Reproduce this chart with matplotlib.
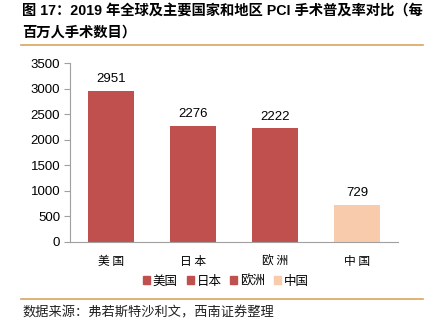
import numpy as np
import matplotlib
matplotlib.use("Agg")
import matplotlib.pyplot as plt
from matplotlib.patches import Patch
from matplotlib.lines import Line2D

plt.rcParams['font.family'] = ['Liberation Sans', 'Noto Sans CJK SC', 'DejaVu Sans']

regions = ['美国', '日本', '欧洲', '中国']
values = [2951, 2276, 2222, 729]
colors = ['#C0504D', '#C0504D', '#C0504D', '#F8CBAD']
yticks = [0, 500, 1000, 1500, 2000, 2500, 3000, 3500]

title1 = '图 17：2019 年全球及主要国家和地区 PCI 手术普及率对比（每'
title2 = '百万人手术数目）'
source = '数据来源：弗若斯特沙利文，西南证券整理'

W, H = 433, 335
fig = plt.figure(figsize=(W / 100, H / 100), dpi=100)

def fx(px):
    return px / W

def fy(py):
    return 1 - py / H

# axes: x 70..398, y 63..242
ax = fig.add_axes([fx(70), fy(242), fx(398) - fx(70), fy(63) - fy(242)])
x = np.arange(len(regions))
bars = ax.bar(x, values, width=0.57, color=colors)
for xi, v in zip(x, values):
    ax.text(xi, v + 110, str(v), ha='center', va='bottom', fontsize=9.5, color='#000000')

ax.set_xlim(-0.5, len(regions) - 0.5)
ax.set_ylim(0, 3500)
ax.set_yticks(yticks)
ax.tick_params(axis='y', labelsize=9.5, length=4, color='#A0A0A0', pad=3)
ax.tick_params(axis='x', length=0, pad=9)
ax.set_xticks(x)
ax.set_xticklabels([' '.join(r) for r in regions], fontsize=8.5, family=['Noto Sans CJK SC'])
for s in ['top', 'right']:
    ax.spines[s].set_visible(False)
ax.spines['left'].set_color('#A0A0A0')
ax.spines['bottom'].set_color('#A0A0A0')

handles = [Patch(color=c, label=r) for r, c in zip(regions, colors)]
leg = fig.legend(handles=handles, loc='center', bbox_to_anchor=(fx(226), fy(281)),
                 ncol=4, frameon=False, handlelength=0.55, handleheight=0.55,
                 handletextpad=0.25, columnspacing=0.7,
                 prop={'family': ['Noto Sans CJK SC'], 'size': 9})

fig.text(fx(22), fy(11), title1, fontsize=10.3, fontweight='bold', va='center', ha='left')
fig.text(fx(22), fy(33), title2, fontsize=10.3, fontweight='bold', va='center', ha='left')
fig.text(fx(22), fy(313), source, fontsize=9.5, va='center', ha='left', color='#222222',
         family=['Noto Sans CJK SC'])

line_color = '#D9A55F'
fig.add_artist(Line2D([fx(21), fx(423)], [fy(45), fy(45)], color=line_color, lw=1.2))
fig.add_artist(Line2D([fx(21), fx(423)], [fy(299), fy(299)], color=line_color, lw=1.2))

fig.savefig('out.png', dpi=100)
